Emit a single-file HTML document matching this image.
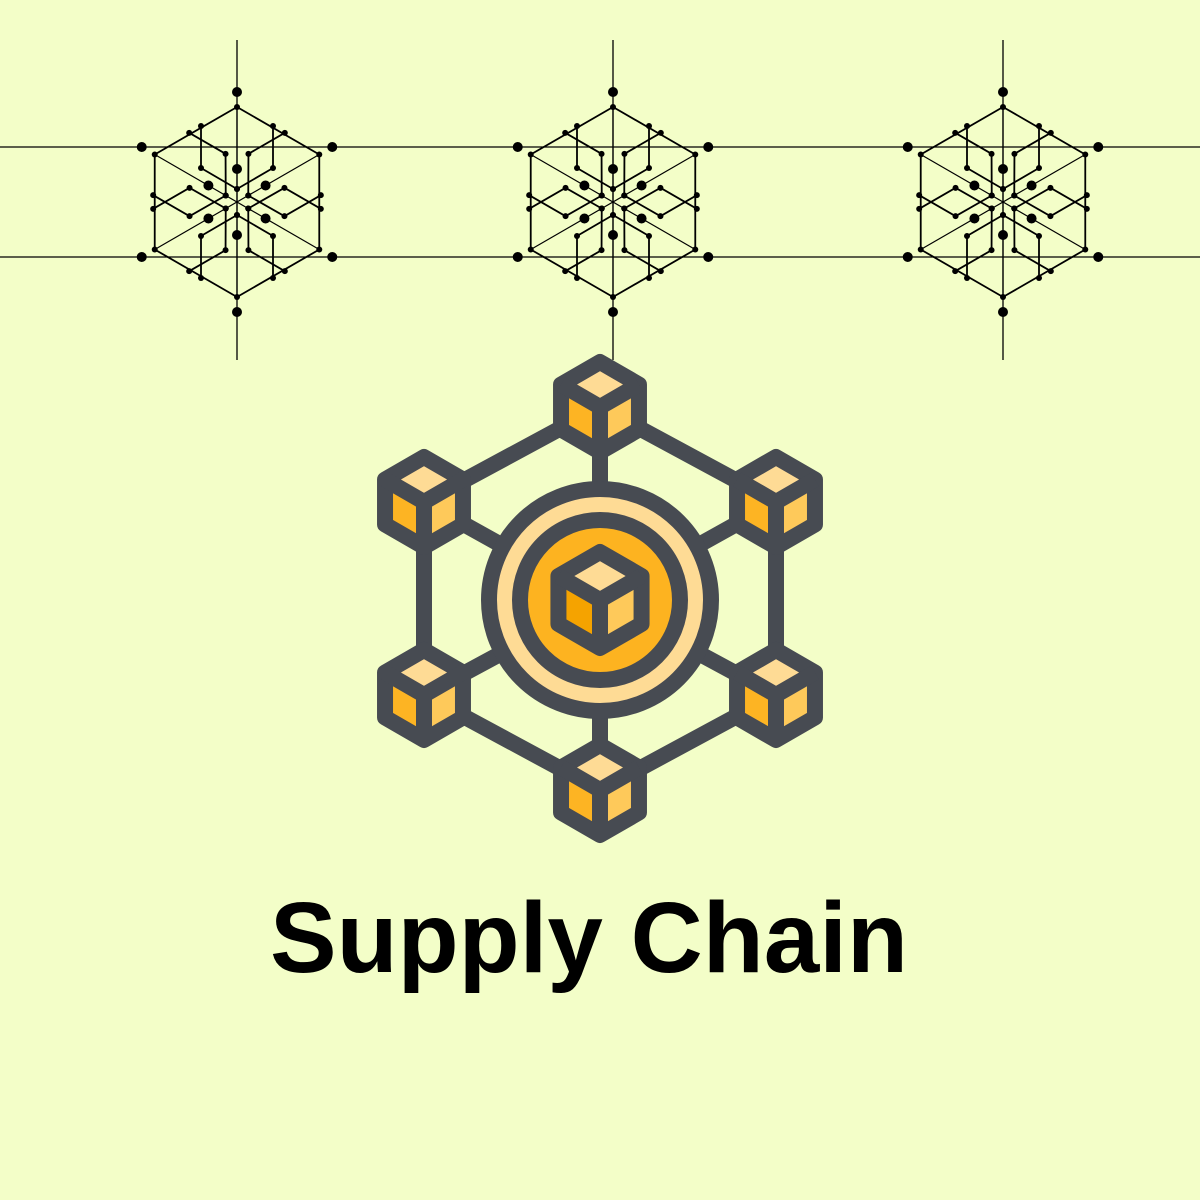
<!DOCTYPE html>
<html><head><meta charset="utf-8"><style>
html,body{margin:0;padding:0;background:#f3fec8;}
svg{display:block}
</style></head><body>
<svg id="art" width="1200" height="1200" viewBox="0 0 1200 1200" xmlns="http://www.w3.org/2000/svg">
<rect x="0" y="0" width="1200" height="1200" fill="#f3fec8"/>
<g id="flakes" stroke="#000" fill="none"></g>
<g id="icon"></g>
<text x="589" y="972" text-anchor="middle" font-family="Liberation Sans, sans-serif" font-weight="bold" font-size="100" textLength="638" lengthAdjust="spacingAndGlyphs" fill="#000">Supply Chain</text>
</svg>
<script>
const NS='http://www.w3.org/2000/svg';
const flakeCenters=[237,613,1003];
const flakeY=202;
const dark='#474b52';
function mk(parent,tag,attrs){const e=document.createElementNS(NS,tag);for(const k in attrs)e.setAttribute(k,attrs[k]);parent.appendChild(e);return e;}
const fl=document.getElementById('flakes');
[147,257].forEach(y=>{const l=mk(fl,'line',{x1:0,y1:y,x2:1200,y2:y,'stroke-width':1.3});

});
const poly=[[-36,-76],[-36,-34],[0,-13]];
function rot(p,a){const c=Math.cos(a),s=Math.sin(a);return [p[0]*c-p[1]*s,p[0]*s+p[1]*c];}
flakeCenters.forEach(cx=>{
  const g=mk(fl,'g',{});
  
  
  mk(g,'line',{x1:cx,y1:40,x2:cx,y2:360,'stroke-width':1.3});
  const hex=[];for(let k=0;k<6;k++){const a=-Math.PI/2+k*Math.PI/3;hex.push([cx+95*Math.cos(a),flakeY+95*Math.sin(a)]);}
  mk(g,'polygon',{points:hex.map(p=>p.join(',')).join(' '),'stroke-width':1.8});
  for(let k=0;k<3;k++){mk(g,'line',{x1:hex[k][0],y1:hex[k][1],x2:hex[k+3][0],y2:hex[k+3][1],'stroke-width':1.2});}
  for(let k=0;k<6;k++){
    const a=k*Math.PI/3;
    [1,-1].forEach(m=>{
      const pts=poly.map(p=>{const r=rot([p[0]*m,p[1]],a);return [cx+r[0],flakeY+r[1]];});
      mk(g,'polyline',{points:pts.map(p=>p.join(',')).join(' '),'stroke-width':1.8});
      pts.forEach(p=>mk(g,'circle',{cx:p[0],cy:p[1],r:3,fill:'#000',stroke:'none'}));
    });
    const ang=-Math.PI/2+k*Math.PI/3;
    mk(g,'circle',{cx:cx+33*Math.cos(ang),cy:flakeY+33*Math.sin(ang),r:5,fill:'#000',stroke:'none'});
    mk(g,'circle',{cx:cx+110*Math.cos(ang),cy:flakeY+110*Math.sin(ang),r:5,fill:'#000',stroke:'none'});
    mk(g,'circle',{cx:hex[k][0],cy:hex[k][1],r:3,fill:'#000',stroke:'none'});
  }
});
const ic=document.getElementById('icon');
const cubes=[[600,407],[776,502],[776,695],[600,790],[424,695],[424,502]];
const links=mk(ic,'g',{stroke:dark,'stroke-width':16,fill:'none','stroke-linecap':'round'});


for(let i=0;i<6;i++){const a=cubes[i],b=cubes[(i+1)%6];mk(links,'line',{x1:a[0],y1:a[1],x2:b[0],y2:b[1]});mk(links,'line',{x1:a[0],y1:a[1],x2:600,y2:600});}
const ring=mk(ic,'circle',{cx:600,cy:600,r:111,fill:'#fedb95',stroke:dark,'stroke-width':16});


const inner=mk(ic,'circle',{cx:600,cy:600,r:80,fill:'#fdb320',stroke:dark,'stroke-width':16});


function cube(cx,cy,R,left,name){
  const g=mk(ic,'g',{});
  
  
  const v=[];for(let k=0;k<6;k++){const a=-Math.PI/2+k*Math.PI/3;v.push([cx+R*Math.cos(a),cy+R*Math.sin(a)]);}
  const c=[cx,cy];
  const P=a=>a.map(p=>p.join(',')).join(' ');
  mk(g,'polygon',{points:P([v[0],v[1],c,v[5]]),fill:'#fedb95'});
  mk(g,'polygon',{points:P([c,v[1],v[2],v[3]]),fill:'#fec95a'});
  mk(g,'polygon',{points:P([c,v[3],v[4],v[5]]),fill:left});
  mk(g,'polygon',{points:P(v),fill:'none',stroke:dark,'stroke-width':16,'stroke-linejoin':'round'});
  mk(g,'polyline',{points:P([v[5],c,v[1]]),fill:'none',stroke:dark,'stroke-width':16,'stroke-linejoin':'round'});
  mk(g,'line',{x1:cx,y1:cy,x2:v[3][0],y2:v[3][1],stroke:dark,'stroke-width':16});
}
cubes.forEach((p,i)=>cube(p[0],p[1],45,'#fdb423','node-cube-'+(i+1)));
cube(600,600,48,'#f5a300','center-cube');
</script>
</body></html>
